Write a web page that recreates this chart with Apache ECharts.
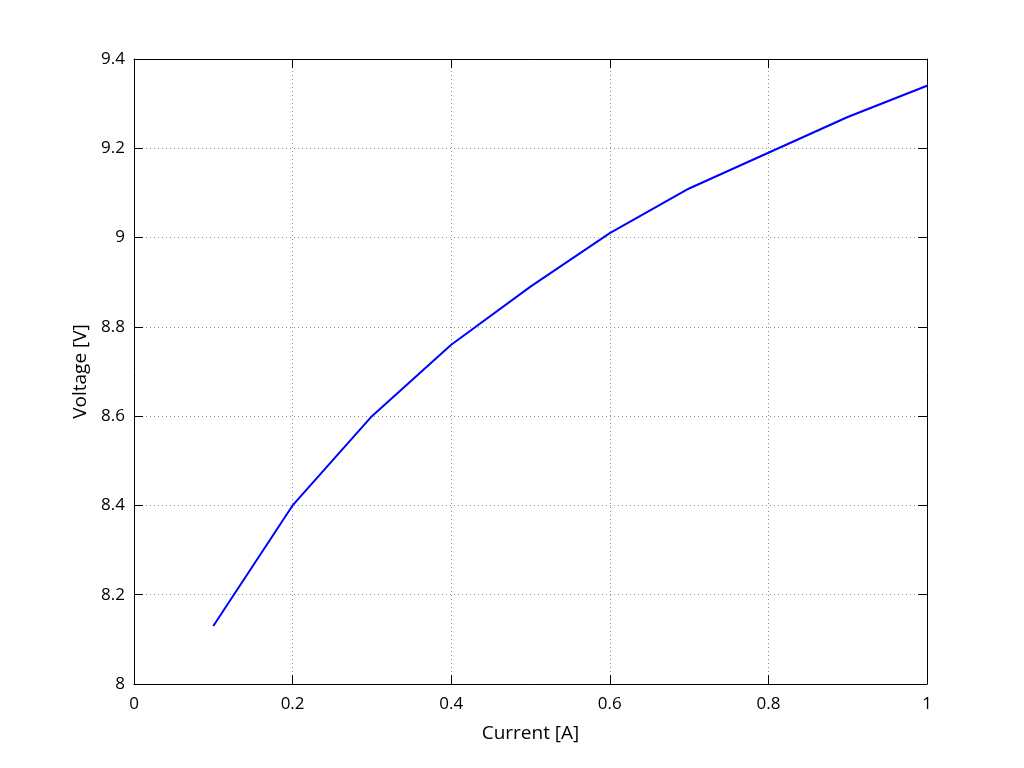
<!DOCTYPE html>
<html><head><meta charset="utf-8">
<script src="https://cdn.jsdelivr.net/npm/echarts@6/dist/echarts.min.js"></script>
<style>html,body{margin:0;padding:0;background:#fff}#c{width:1024px;height:768px}</style>
</head><body><div id="c"></div>
<script>
const current = [0.1, 0.2, 0.3, 0.4, 0.5, 0.6, 0.7, 0.8, 0.9, 1.0];
const voltage = [8.13, 8.40, 8.60, 8.76, 8.89, 9.01, 9.11, 9.19, 9.27, 9.34];
const xTitle = 'Current [A]';
const yTitle = 'Voltage [V]';

const font = 'Open Sans';
const chart = echarts.init(document.getElementById('c'), null, {renderer: 'canvas'});
const lineCol = '#000';
const gridLine = {show: true, lineStyle: {color: '#909090', type: [1, 3], width: 1}};
function fmt(v){ return String(Math.round(v*10)/10); }
chart.setOption({
  animation: false,
  grid: {left: 134, right: 97, top: 59, bottom: 84},
  xAxis: [
    {type: 'value', min: 0, max: 1, interval: 0.2, position: 'bottom',
     name: xTitle, nameLocation: 'middle', nameGap: 40,
     nameTextStyle: {fontFamily: font, fontSize: 19, color: '#000'},
     axisLine: {show: true, onZero: false, lineStyle: {color: lineCol}},
     axisTick: {show: true, inside: true, length: 9, lineStyle: {color: lineCol}},
     axisLabel: {fontFamily: font, fontSize: 17, color: '#000', margin: 12, formatter: fmt},
     splitLine: gridLine},
    {type: 'value', min: 0, max: 1, interval: 0.2, position: 'top',
     axisLine: {show: true, onZero: false, lineStyle: {color: lineCol}},
     axisTick: {show: true, inside: true, length: 9, lineStyle: {color: lineCol}},
     axisLabel: {show: false}, splitLine: {show: false}}
  ],
  yAxis: [
    {type: 'value', min: 8, max: 9.4, interval: 0.2, position: 'left',
     name: yTitle, nameLocation: 'middle', nameGap: 41,
     nameTextStyle: {fontFamily: font, fontSize: 19, color: '#000'},
     axisLine: {show: true, onZero: false, lineStyle: {color: lineCol}},
     axisTick: {show: true, inside: true, length: 9, lineStyle: {color: lineCol}},
     axisLabel: {fontFamily: font, fontSize: 17, color: '#000', margin: 9, formatter: fmt},
     splitLine: gridLine},
    {type: 'value', min: 8, max: 9.4, interval: 0.2, position: 'right',
     axisLine: {show: true, onZero: false, lineStyle: {color: lineCol}},
     axisTick: {show: true, inside: true, length: 9, lineStyle: {color: lineCol}},
     axisLabel: {show: false}, splitLine: {show: false}}
  ],
  series: [{
    type: 'line', xAxisIndex: 0, yAxisIndex: 0,
    data: current.map((x, i) => [x, voltage[i]]),
    showSymbol: false, symbol: 'none',
    lineStyle: {color: '#0000ff', width: 2},
    itemStyle: {color: '#0000ff'}
  }]
});
</script></body></html>
